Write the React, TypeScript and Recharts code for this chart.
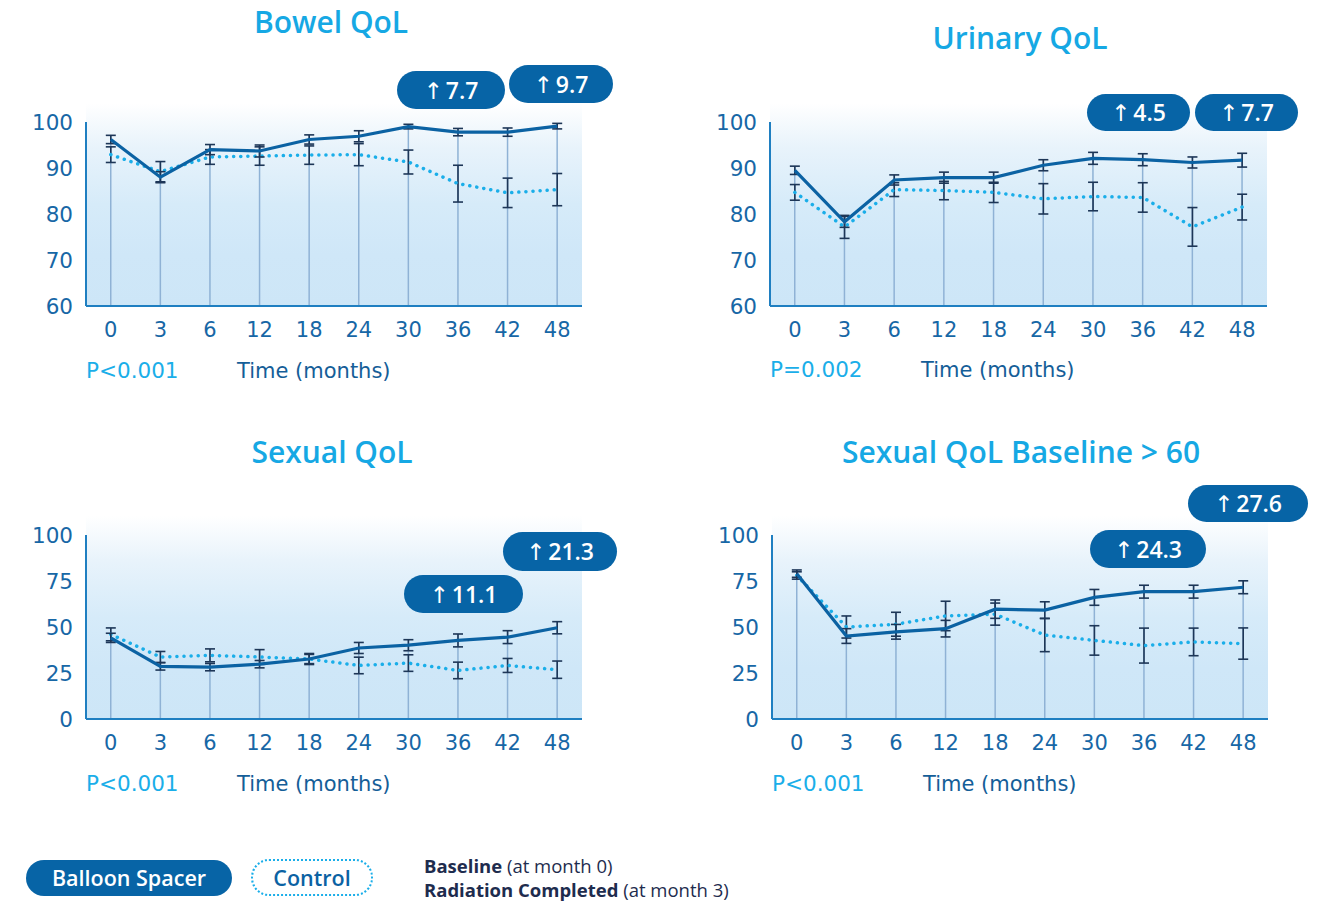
import React from 'react';
import { ComposedChart, Line, Bar, XAxis, YAxis, ErrorBar } from 'recharts';

const FONT = '"Open Sans", "Noto Sans", sans-serif';
const LABEL_FONT = '"DejaVu Sans", sans-serif';

const months = ['0', '3', '6', '12', '18', '24', '30', '36', '42', '48'];

const bowelBalloon = [96.2, 88.0, 94.0, 93.7, 96.2, 96.9, 99.0, 97.8, 97.8, 99.1];
const bowelBalloonErr = [0.9, 1.2, 1.1, 1.3, 1.0, 1.2, 0.5, 0.8, 0.9, 0.6];
const bowelControl = [92.9, 89.2, 92.4, 92.6, 92.8, 92.9, 91.3, 86.6, 84.6, 85.3];
const bowelControlErr = [1.7, 2.2, 1.6, 2.0, 2.0, 2.4, 2.6, 4.0, 3.2, 3.5];

const urinaryBalloon = [89.5, 78.3, 87.4, 87.9, 87.9, 90.6, 92.1, 91.8, 91.2, 91.7];
const urinaryBalloonErr = [0.9, 1.2, 1.1, 1.2, 1.2, 1.2, 1.3, 1.3, 1.2, 1.5];
const urinaryControl = [84.7, 77.2, 85.3, 85.1, 84.7, 83.3, 83.8, 83.6, 77.2, 81.5];
const urinaryControlErr = [1.7, 2.5, 1.5, 2.0, 2.2, 3.3, 3.1, 3.2, 4.2, 2.8];

const sexualBalloon = [44.1, 28.6, 28.2, 29.8, 32.6, 38.6, 40.1, 42.7, 44.5, 49.6];
const sexualBalloonErr = [2.5, 2.0, 2.0, 2.0, 2.5, 3.0, 3.0, 3.5, 3.5, 3.3];
const sexualControl = [46.0, 33.7, 34.6, 33.7, 32.6, 29.1, 30.4, 26.4, 29.1, 26.8];
const sexualControlErr = [3.5, 3.0, 3.5, 4.0, 3.0, 4.5, 4.5, 4.5, 3.8, 4.7];

const sexual60Balloon = [79.0, 45.1, 47.4, 49.1, 59.7, 59.2, 66.1, 69.2, 69.2, 71.6];
const sexual60BalloonErr = [2.0, 4.0, 4.0, 4.5, 5.0, 4.5, 4.3, 3.5, 3.5, 3.5];
const sexual60Control = [78.0, 50.0, 51.5, 56.0, 57.0, 45.6, 42.7, 39.9, 41.9, 41.0];
const sexual60ControlErr = [2.0, 6.0, 6.5, 8.0, 6.0, 9.0, 8.0, 9.5, 7.5, 8.5];

const ticksHigh = [60, 70, 80, 90, 100];
const ticksFull = [0, 25, 50, 75, 100];

function buildRows(b: number[], be: number[], c: number[], ce: number[]) {
  return months.map((m, i) => ({
    month: m,
    balloon: b[i],
    balloonErr: be[i],
    control: c[i],
    controlErr: ce[i],
    top: Math.max(b[i] + be[i], c[i] + ce[i]),
  }));
}

type Badge = { value: string; left: number; top: number; width: number; height: number };

type PanelProps = {
  title: string;
  titleX: number;
  titleY: number;
  rows: any[];
  domain: [number, number];
  ticks: number[];
  plotLeft: number;
  plotTop: number;
  plotW: number;
  plotH: number;
  pText: string;
  labelY: number;
  badges: Badge[];
};

const ML = 70;
const MT = 22;

function Panel(p: PanelProps) {
  return (
    <>
      <div
        style={{
          position: 'absolute',
          left: p.titleX - 250,
          top: p.titleY - 20,
          width: 500,
          textAlign: 'center',
          fontFamily: FONT,
          fontWeight: 600,
          fontSize: 30,
          lineHeight: '40px',
          color: '#16a8e4',
        }}
      >
        {p.title}
      </div>
      <div
        style={{
          position: 'absolute',
          left: p.plotLeft,
          top: p.plotTop - 19,
          width: p.plotW,
          height: p.plotH + 19,
          background:
            'linear-gradient(to bottom, #ffffff 0%, #e8f3fb 22%, #d6ebf9 50%, #cfe7f8 75%, #cde6f7 100%)',
        }}
      />
      <div style={{ position: 'absolute', left: p.plotLeft - ML, top: p.plotTop - MT }}>
        <ComposedChart
          width={p.plotW + ML + 6}
          height={p.plotH + MT + 48}
          data={p.rows}
          margin={{ top: MT, right: 6, bottom: 8, left: 8 }}
        >
          <XAxis
            dataKey="month"
            height={40}
            tickLine={false}
            axisLine={{ stroke: '#1f7fc1', strokeWidth: 2 }}
            tickMargin={10}
            tick={{ fill: '#1767a6', fontSize: 21, fontFamily: LABEL_FONT }}
            interval={0}
          />
          <YAxis
            width={62}
            type="number"
            domain={p.domain}
            ticks={p.ticks}
            tickLine={false}
            axisLine={{ stroke: '#1f7fc1', strokeWidth: 2 }}
            tickMargin={7}
            tick={{ fill: '#1767a6', fontSize: 21.5, fontFamily: LABEL_FONT }}
            allowDataOverflow
          />
          <Bar dataKey="top" barSize={1.5} fill="#8fb2d5" isAnimationActive={false} />
          <Line
            dataKey="control"
            stroke="#1aaee9"
            strokeWidth={3.5}
            strokeDasharray="0.1 7"
            strokeLinecap="round"
            dot={false}
            isAnimationActive={false}
          >
            <ErrorBar dataKey="controlErr" direction="y" width={5} stroke="#1d3657" strokeWidth={1.6} />
          </Line>
          <Line
            dataKey="balloon"
            stroke="#0b62a3"
            strokeWidth={3.2}
            dot={false}
            isAnimationActive={false}
          >
            <ErrorBar dataKey="balloonErr" direction="y" width={5} stroke="#1d3657" strokeWidth={1.6} />
          </Line>
        </ComposedChart>
      </div>
      <div
        style={{
          position: 'absolute',
          left: p.plotLeft,
          top: p.labelY - 13,
          fontFamily: LABEL_FONT,
          fontSize: 21.5,
          lineHeight: '26px',
          color: '#1aaee9',
          whiteSpace: 'nowrap',
        }}
      >
        {p.pText}
      </div>
      <div
        style={{
          position: 'absolute',
          left: p.plotLeft + 151,
          top: p.labelY - 13,
          fontFamily: LABEL_FONT,
          fontSize: 21,
          lineHeight: '26px',
          color: '#155e98',
          whiteSpace: 'nowrap',
        }}
      >
        Time (months)
      </div>
      {p.badges.map((b, i) => (
        <div
          key={i}
          style={{
            position: 'absolute',
            left: b.left,
            top: b.top,
            width: b.width,
            height: b.height,
            borderRadius: b.height / 2,
            background: '#0764a6',
            color: '#ffffff',
            fontFamily: FONT,
            fontWeight: 600,
            fontSize: 23,
            lineHeight: b.height + 'px',
            textAlign: 'center',
          }}
        >
          <span style={{ fontFamily: LABEL_FONT, fontWeight: 400, fontSize: 23 }}>↑</span>
          <span style={{ marginLeft: 3 }}>{b.value}</span>
        </div>
      ))}
    </>
  );
}

export default function App() {
  return (
    <div
      style={{
        position: 'absolute',
        left: 0,
        top: 0,
        width: 1333,
        height: 901,
        background: '#ffffff',
        overflow: 'hidden',
      }}
    >
      <Panel
        title="Bowel QoL"
        titleX={331}
        titleY={22}
        rows={buildRows(bowelBalloon, bowelBalloonErr, bowelControl, bowelControlErr)}
        domain={[60, 100]}
        ticks={ticksHigh}
        plotLeft={86}
        plotTop={122}
        plotW={496}
        plotH={184}
        pText="P<0.001"
        labelY={371}
        badges={[
          { value: '7.7', left: 397, top: 71, width: 108, height: 38 },
          { value: '9.7', left: 509, top: 65, width: 104, height: 38 },
        ]}
      />
      <Panel
        title="Urinary QoL"
        titleX={1020}
        titleY={38}
        rows={buildRows(urinaryBalloon, urinaryBalloonErr, urinaryControl, urinaryControlErr)}
        domain={[60, 100]}
        ticks={ticksHigh}
        plotLeft={770}
        plotTop={122}
        plotW={497}
        plotH={184}
        pText="P=0.002"
        labelY={370}
        badges={[
          { value: '4.5', left: 1087, top: 94, width: 103, height: 37 },
          { value: '7.7', left: 1195, top: 94, width: 103, height: 37 },
        ]}
      />
      <Panel
        title="Sexual QoL"
        titleX={332}
        titleY={452}
        rows={buildRows(sexualBalloon, sexualBalloonErr, sexualControl, sexualControlErr)}
        domain={[0, 100]}
        ticks={ticksFull}
        plotLeft={86}
        plotTop={535}
        plotW={496}
        plotH={184}
        pText="P<0.001"
        labelY={784}
        badges={[
          { value: '21.3', left: 503, top: 532, width: 114, height: 39 },
          { value: '11.1', left: 404, top: 575, width: 119, height: 38 },
        ]}
      />
      <Panel
        title="Sexual QoL Baseline > 60"
        titleX={1021}
        titleY={452}
        rows={buildRows(sexual60Balloon, sexual60BalloonErr, sexual60Control, sexual60ControlErr)}
        domain={[0, 100]}
        ticks={ticksFull}
        plotLeft={772}
        plotTop={535}
        plotW={496}
        plotH={184}
        pText="P<0.001"
        labelY={784}
        badges={[
          { value: '27.6', left: 1188, top: 485, width: 120, height: 37 },
          { value: '24.3', left: 1090, top: 530, width: 116, height: 38 },
        ]}
      />
      <div
        style={{
          position: 'absolute',
          left: 26,
          top: 860,
          width: 206,
          height: 36,
          borderRadius: 18,
          background: '#0764a6',
          color: '#ffffff',
          fontFamily: FONT,
          fontWeight: 600,
          fontSize: 21.5,
          lineHeight: '36px',
          textAlign: 'center',
        }}
      >
        Balloon Spacer
      </div>
      <div
        style={{
          position: 'absolute',
          left: 251,
          top: 859,
          width: 118,
          height: 33,
          borderRadius: 18,
          border: '2px dotted #1aaee9',
          color: '#0b62a3',
          fontFamily: FONT,
          fontWeight: 600,
          fontSize: 21.5,
          lineHeight: '33px',
          textAlign: 'center',
        }}
      >
        Control
      </div>
      <div
        style={{
          position: 'absolute',
          left: 424,
          top: 854,
          fontFamily: FONT,
          fontSize: 18.5,
          lineHeight: '24px',
          color: '#1e2c4e',
          whiteSpace: 'nowrap',
        }}
      >
        <div>
          <b style={{ fontWeight: 700 }}>Baseline</b> (at month 0)
        </div>
        <div>
          <b style={{ fontWeight: 700 }}>Radiation Completed</b> (at month 3)
        </div>
      </div>
    </div>
  );
}
